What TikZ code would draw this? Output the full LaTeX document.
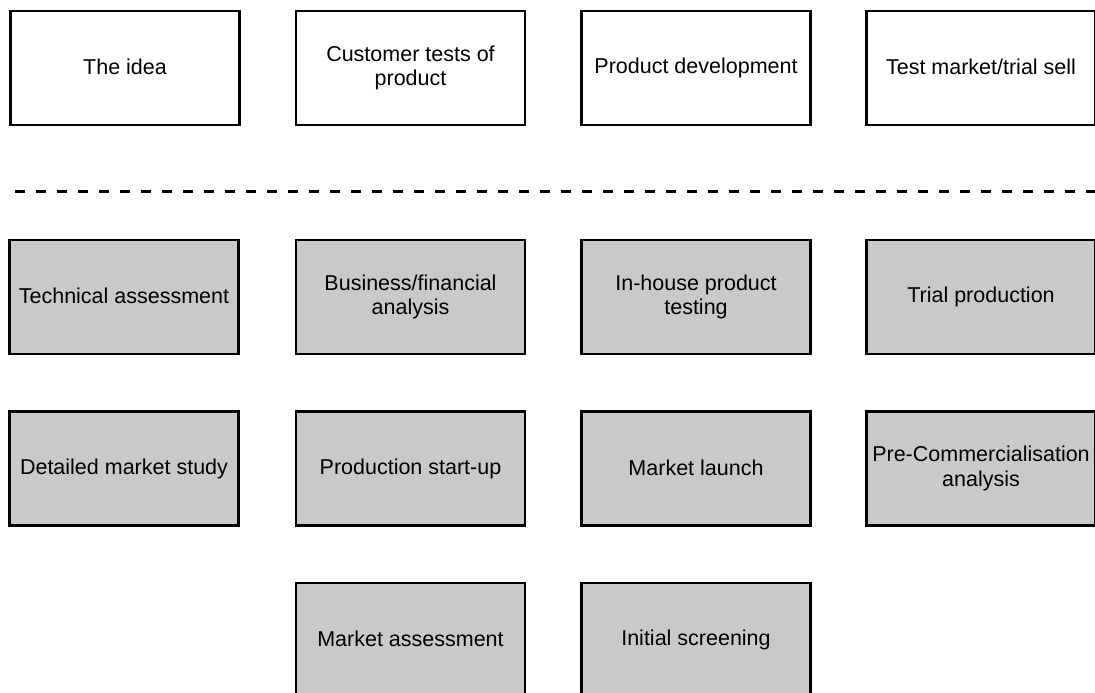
\documentclass[tikz,border=0pt]{standalone}
\usepackage{fontspec}
\setmainfont{Liberation Sans}
\usepackage{xcolor}
\usepackage{tikz}
\usetikzlibrary{positioning}
\definecolor{boxgray}{HTML}{C9C9C9}
\newcommand\boxstrut{\rule[-2pt]{0pt}{17.5pt}}

\begin{document}
\begin{tikzpicture}[x=1pt,y=-1pt,
  wbox/.style={rectangle,draw,line width=2.8pt,fill=white,minimum width=229pt,
    minimum height=114pt,inner sep=2pt,align=center,
    font=\fontsize{21.5}{24.5}\selectfont,
    execute at begin node=\boxstrut,execute at end node=\boxstrut},
  gbox/.style={wbox,fill=boxgray}]
  \useasboundingbox (0,0) rectangle (1095,693);
  % upper row
  \node[wbox](idea) at (125,68){The idea};
  \node[wbox](tests) at (410.5,68){Customer tests of\\product};
  \node[wbox](develop) at (696,68){Product development};
  \node[wbox](testmkt) at (981,68){Test market/trial sell};
  % separator
  \coordinate (sepl) at (15,191);
  \coordinate (sepr) at (1095,191);
  \draw[line width=3pt,dash pattern=on 10pt off 11pt](sepl)--(sepr);
  % shaded boxes
  \node[gbox](techass) at (124,297){Technical assessment};
  \node[gbox](bizfin) at (410.5,297){Business/financial\\analysis};
  \node[gbox](inhouse) at (696,297){In-house product\\testing};
  \node[gbox](trialprod) at (981,297){Trial production};
  \node[gbox](mktstudy) at (124,468.5){Detailed market study};
  \node[gbox](prodstart) at (410.5,468.5){Production start-up};
  \node[gbox](launch) at (696,468.5){Market launch};
  \node[gbox](precomm) at (981,468.5){Pre-Commercialisation\\analysis};
  \node[gbox](mktass) at (410.5,640){Market assessment};
  \node[gbox](screen) at (696,640){Initial screening};
\end{tikzpicture}
\end{document}
